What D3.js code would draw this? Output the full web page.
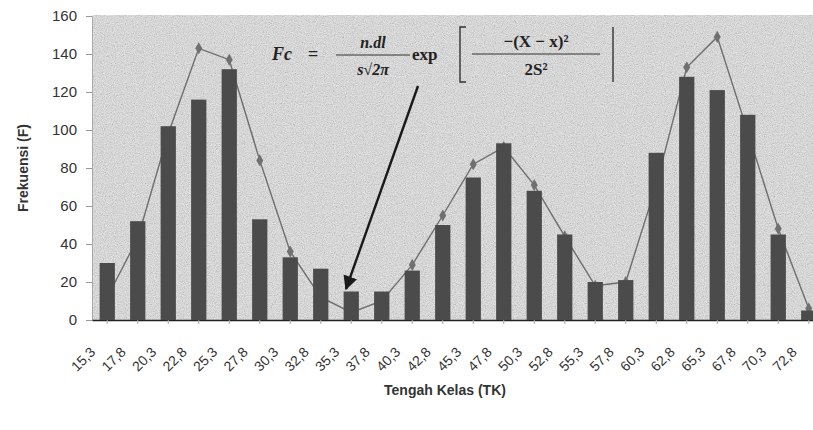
<!DOCTYPE html>
<html>
<head>
<meta charset="utf-8">
<script src="https://cdn.jsdelivr.net/npm/d3@7"></script>
<style>
  body { margin: 0; background: #fff; }
  svg { display: block; }
</style>
</head>
<body>
<svg id="chart" width="813" height="430"></svg>
<script>
// kelas (tengah kelas) dan frekuensi
var categories = ['15,3','17,8','20,3','22,8','25,3','27,8','30,3','32,8','35,3','37,8','40,3','42,8',
                  '45,3','47,8','50,3','52,8','55,3','57,8','60,3','62,8','65,3','67,8','70,3','72,8'];
var freqObs = [30, 52, 102, 116, 132, 53, 33, 27, 15, 15, 26, 50, 75, 93, 68, 45, 20, 21, 88, 128, 121, 108, 45, 5];
var freqFc  = [12, 43, 98, 143, 137, 84, 36, 12, 4, 10, 29, 55, 82, 91, 71, 44, 18, 20, 71, 133, 149, 99, 48, 6];
var yTicks = [0, 20, 40, 60, 80, 100, 120, 140, 160];

var plotLeft = 92, plotRight = 824, plotTop = 16, plotBottom = 320;

var svg = d3.select('#chart');

var x = d3.scaleBand().domain(categories).range([plotLeft, plotRight]).paddingInner(0.5).paddingOuter(0.25);
var y = d3.scaleLinear().domain([0, 160]).range([plotBottom, plotTop]);

// noise texture for plot area
var defs = svg.append('defs');
var f = defs.append('filter').attr('id', 'grain').attr('x', 0).attr('y', 0).attr('width', 1).attr('height', 1);
f.append('feTurbulence').attr('type', 'fractalNoise').attr('baseFrequency', 0.9).attr('numOctaves', 2).attr('seed', 4);
f.append('feColorMatrix').attr('type', 'matrix')
  .attr('values', '0.5 0.5 0.5 0 0.02  0.5 0.5 0.5 0 0.02  0.5 0.5 0.5 0 0.02  0 0 0 0 0.55');
defs.append('marker').attr('id', 'arrow').attr('viewBox', '0 0 10 10').attr('refX', 9).attr('refY', 5)
  .attr('markerWidth', 6).attr('markerHeight', 6).attr('orient', 'auto')
  .append('path').attr('d', 'M0,0L10,5L0,10z').attr('fill', '#1a1a1a');

svg.append('rect').attr('x', plotLeft).attr('y', plotTop - 1).attr('width', plotRight - plotLeft).attr('height', plotBottom - plotTop + 1)
  .attr('fill', '#c4c4c4');
svg.append('rect').attr('x', plotLeft).attr('y', plotTop - 1).attr('width', plotRight - plotLeft).attr('height', plotBottom - plotTop + 1)
  .attr('filter', 'url(#grain)');

// y axis
var yAxis = svg.append('g').attr('transform', 'translate(' + plotLeft + ',0)')
  .call(d3.axisLeft(y).tickValues(yTicks).tickSize(6).tickPadding(9));
yAxis.select('.domain').attr('stroke', '#aaa');
yAxis.selectAll('.tick line').attr('stroke', '#999');
yAxis.selectAll('text').attr('font-family', 'Arial, Liberation Sans, sans-serif').attr('font-size', 15).attr('fill', '#333');

// x axis
var xAxis = svg.append('g').attr('transform', 'translate(0,' + plotBottom + ')')
  .call(d3.axisBottom(x).tickSize(4).tickSizeOuter(0));
xAxis.select('.domain').attr('stroke', '#222').attr('stroke-width', 1.5);
xAxis.selectAll('.tick line').attr('stroke', '#aaa');
xAxis.selectAll('text')
  .attr('font-family', 'Arial, Liberation Sans, sans-serif').attr('font-size', 14).attr('fill', '#333')
  .attr('text-anchor', 'end').attr('dy', null).attr('y', null)
  .attr('transform', 'translate(-11,33) rotate(-45)');

// line of expected frequencies (behind the bars)
var cx = function(d, i) { return x(categories[i]) + x.bandwidth() / 2; };
svg.append('path').datum(freqFc)
  .attr('fill', 'none').attr('stroke', '#6e6e6e').attr('stroke-width', 1.4)
  .attr('d', d3.line().x(cx).y(function(d) { return y(d); }));
svg.selectAll('.mk').data(freqFc).enter().append('path').attr('class', 'mk')
  .attr('transform', function(d, i) { return 'translate(' + cx(d, i) + ',' + y(d) + ')'; })
  .attr('d', d3.symbol().type(d3.symbolDiamond).size(42))
  .attr('fill', '#707070');

// observed bars
svg.selectAll('.bar').data(freqObs).enter().append('rect').attr('class', 'bar')
  .attr('x', function(d, i) { return x(categories[i]); })
  .attr('y', function(d) { return y(d); })
  .attr('width', x.bandwidth())
  .attr('height', function(d) { return plotBottom - y(d); })
  .attr('fill', '#4b4b4b');

// axis titles
svg.append('text').attr('transform', 'translate(28,168) rotate(-90)').attr('text-anchor', 'middle')
  .attr('font-family', 'Arial, Liberation Sans, sans-serif').attr('font-size', 14).attr('font-weight', 'bold')
  .attr('fill', '#333').text('Frekuensi (F)');
svg.append('text').attr('x', 445).attr('y', 395).attr('text-anchor', 'middle')
  .attr('font-family', 'Arial, Liberation Sans, sans-serif').attr('font-size', 14).attr('font-weight', 'bold')
  .attr('fill', '#333').text('Tengah Kelas (TK)');

// formula
var fm = svg.append('g').attr('font-family', 'Liberation Serif, Times New Roman, serif')
  .attr('font-weight', 'bold').attr('fill', '#222');
fm.append('text').attr('x', 272).attr('y', 60).attr('font-size', 18).attr('font-style', 'italic').text('Fc');
fm.append('text').attr('x', 308).attr('y', 60).attr('font-size', 18).text('=');
fm.append('line').attr('x1', 336).attr('x2', 410).attr('y1', 55).attr('y2', 55).attr('stroke', '#333').attr('stroke-width', 1.2);
fm.append('text').attr('x', 373).attr('y', 48).attr('text-anchor', 'middle').attr('font-size', 16).attr('font-style', 'italic').text('n.dl');
fm.append('text').attr('x', 373).attr('y', 75).attr('text-anchor', 'middle').attr('font-size', 16).attr('font-style', 'italic').text('s\u221A2\u03C0');
fm.append('text').attr('x', 412).attr('y', 60).attr('font-size', 17).text('exp');
fm.append('path').attr('d', 'M466,27H460V82H466').attr('fill', 'none').attr('stroke', '#333').attr('stroke-width', 1.4);
fm.append('line').attr('x1', 472).attr('x2', 600).attr('y1', 54).attr('y2', 54).attr('stroke', '#333').attr('stroke-width', 1.2);
fm.append('text').attr('x', 536).attr('y', 47).attr('text-anchor', 'middle').attr('font-size', 17).text('\u2212(X \u2212 x)\u00B2');
fm.append('text').attr('x', 536).attr('y', 75).attr('text-anchor', 'middle').attr('font-size', 17).text('2S\u00B2');
fm.append('line').attr('x1', 613).attr('x2', 613).attr('y1', 27).attr('y2', 82).attr('stroke', '#333').attr('stroke-width', 1.4);

// arrow to 35,3
svg.append('line').attr('x1', 418).attr('y1', 86).attr('x2', 346).attr('y2', 289)
  .attr('stroke', '#1a1a1a').attr('stroke-width', 2.4).attr('marker-end', 'url(#arrow)');
</script>
</body>
</html>
